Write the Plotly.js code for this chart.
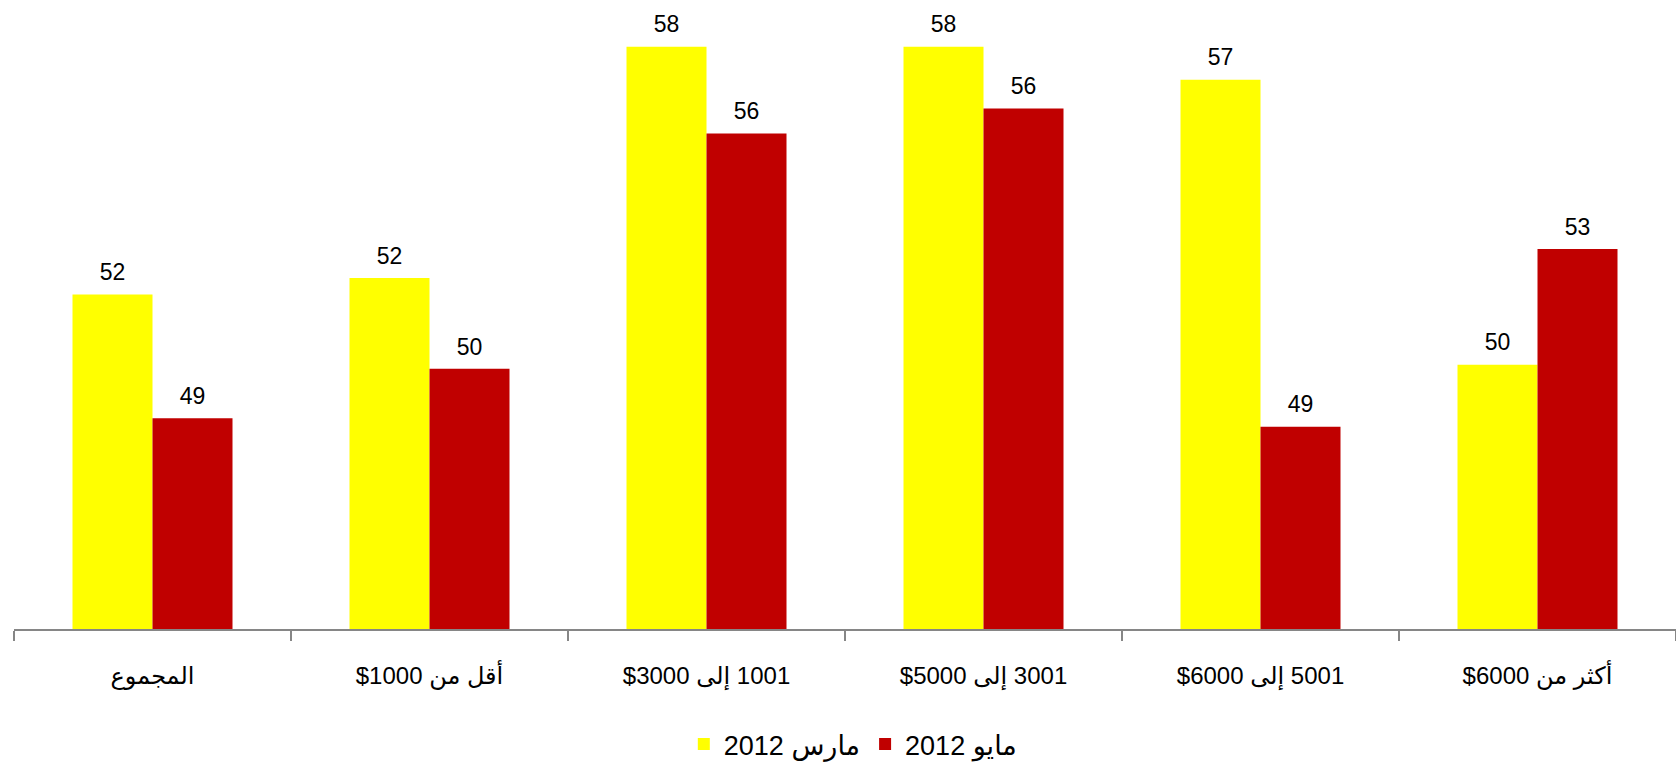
<!DOCTYPE html>
<html>
<head>
<meta charset="utf-8">
<script src="https://cdn.plot.ly/plotly-3.0.1.min.js"></script>
<style>
  html, body { margin: 0; padding: 0; background: #ffffff; }
  #chart { width: 1676px; height: 769px; }
</style>
</head>
<body>
<div id="chart"></div>
<script>
// Categories (income groups)
const categories = [
  'المجموع',
  'أقل من 1000$',
  '1001 إلى 3000$',
  '3001 إلى 5000$',
  '5001 إلى 6000$',
  'أكثر من 6000$'
];

// Series names
const seriesNames = ['مارس 2012', 'مايو 2012'];

// Values (bar heights)
const march2012 = [52.1, 52.5, 58.1, 58.1, 57.3, 50.4];
const may2012   = [49.1, 50.3, 56.0, 56.6, 48.9, 53.2];

// Data labels as printed on the chart
const marchLabels = ['52', '52', '58', '58', '57', '50'];
const mayLabels   = ['49', '50', '56', '56', '49', '53'];

const colors = ['#FFFF00', '#C00000'];

const RLE = '\u202B', PDF = '\u202C';
const rtl = s => RLE + s + PDF;

const fontFamily = 'Liberation Sans, Arial, DejaVu Sans, sans-serif';
const series = [march2012, may2012];
const labels = [marchLabels, mayLabels];

const traces = [];
series.forEach((vals, i) => {
  traces.push({
    type: 'bar',
    name: rtl(seriesNames[i]),
    x: categories,
    y: vals,
    offsetgroup: 'g' + i,
    marker: { color: colors[i] },
    hoverinfo: 'skip'
  });
});
series.forEach((vals, i) => {
  traces.push({
    type: 'scatter',
    mode: 'markers+text',
    x: categories,
    y: vals,
    text: labels[i],
    offsetgroup: 'g' + i,
    marker: { size: 12, opacity: 0, color: colors[i] },
    textposition: 'top center',
    textfont: { family: fontFamily, size: 23, color: '#000000' },
    showlegend: false,
    hoverinfo: 'skip',
    cliponaxis: false
  });
});

const layout = {
  width: 1676,
  height: 769,
  margin: { l: 14, r: 0, t: 0, b: 134 },
  paper_bgcolor: '#ffffff',
  plot_bgcolor: '#ffffff',
  barmode: 'group',
  bargap: 0.4224,
  bargroupgap: 0,
  scattermode: 'group',
  scattergap: 0.4224,
  showlegend: true,
  legend: {
    orientation: 'h',
    x: 0.505,
    xanchor: 'center',
    y: -0.184,
    yanchor: 'middle',
    font: { family: fontFamily, size: 27, color: '#000000' },
    itemwidth: 30,
    traceorder: 'normal'
  },
  xaxis: {
    type: 'category',
    tickvals: categories,
    ticktext: categories.map(rtl),
    showline: true,
    linecolor: '#868686',
    linewidth: 2,
    ticks: 'outside',
    tickson: 'boundaries',
    ticklen: 10,
    tickwidth: 2,
    tickcolor: '#868686',
    ticklabelstandoff: 24,
    showgrid: false,
    zeroline: false,
    tickfont: { family: fontFamily, size: 24, color: '#000000' },
    fixedrange: true
  },
  yaxis: {
    range: [44, 59.23],
    visible: false,
    showgrid: false,
    zeroline: false,
    fixedrange: true
  }
};

Plotly.newPlot('chart', traces, layout, { displayModeBar: false, staticPlot: true });
</script>
</body>
</html>
